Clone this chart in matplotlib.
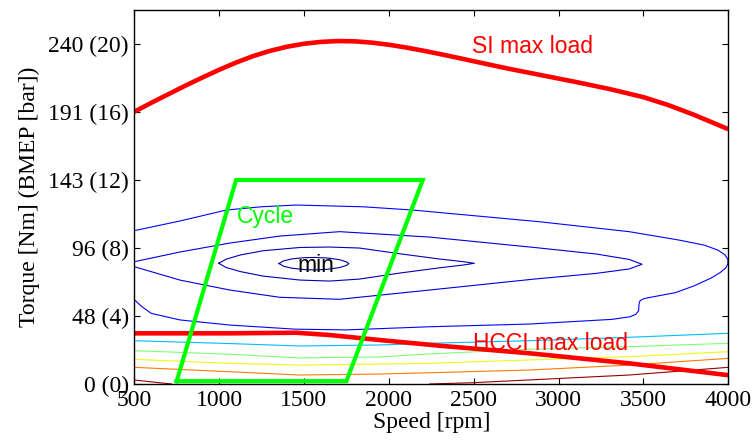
import matplotlib
matplotlib.use('Agg')
from matplotlib import pyplot as plt

# 数据：转速 [rpm] / 扭矩 [Nm]
si_speed = [500, 600, 700, 800, 900, 1000, 1100, 1200, 1300, 1400, 1500, 1600, 1700, 1800, 1900, 2000,
            2100, 2200, 2300, 2400, 2500, 2700, 2900, 3100, 3300, 3500, 3650, 3800, 3900, 4000]
si_torque = [191.2, 197.5, 203.5, 209.5, 215.2, 220.7, 225.8, 230.3, 234.0, 236.9, 239.0, 240.3, 240.9, 240.7, 239.8, 238.3,
             236.4, 234.2, 231.8, 229.3, 226.7, 221.6, 216.9, 212.2, 207.2, 201.5, 195.8, 189.0, 184.0, 179.0]

hcci_speed = [500, 1063, 1455, 1651, 1945, 2298, 2827, 3416, 4000]
hcci_torque = [35.6, 35.6, 36.0, 34.4, 30.9, 26.9, 21.6, 14.5, 6.2]

cycle_speed = [750, 1750, 2200, 1100, 750]
cycle_torque = [2, 2, 143.3, 143.3, 2]

# 等值线
c1_speed = [1353, 1380, 1430, 1500, 1560, 1640, 1710, 1750, 1765, 1750, 1710, 1640, 1560, 1500, 1430, 1380, 1353]
c1_torque = [84.6, 86.5, 87.9, 88.7, 88.9, 88.5, 87.3, 85.8, 84.6, 83.3, 81.8, 80.6, 80.1, 80.4, 81.3, 82.7, 84.6]

c2_speed = [998, 1040, 1124, 1259, 1477, 1651, 1827, 2063, 2298, 2440, 2504,
            2440, 2298, 2063, 1827, 1651, 1477, 1259, 1124, 1040, 998]
c2_torque = [84.8, 87.6, 90.6, 93.6, 95.9, 96.2, 95.5, 91.5, 87.8, 85.9, 84.8,
             83.6, 81.6, 77.9, 73.7, 72.3, 73.0, 75.8, 79.0, 81.9, 84.8]

c3_speed = [500, 769, 1063, 1357, 1710, 2240, 2857, 3222, 3416, 3492, 3416, 3222, 2857, 2240, 1710, 1357, 1063, 769, 500]
c3_torque = [85.9, 92.7, 99.0, 103.9, 107.0, 103.2, 95.9, 91.3, 87.5, 84.1, 80.8, 77.7, 73.7, 66.0, 59.5, 60.9, 66.0, 73.0, 82.4]

c4_speed = [500, 769, 1043, 1250, 1455, 1845, 2139, 2886, 3416, 3710, 3860, 3940, 3980, 3998,
            3998, 3985, 3955, 3900, 3800, 3690, 3560, 3504, 3480, 3474, 3472, 3455, 3420, 3316,
            2827, 2239, 1750, 1450, 1063, 769, 600, 540, 500]
c4_torque = [107.7, 114.5, 122.2, 124.5, 125.7, 124.5, 122.2, 114.0, 107.0, 101.1, 97.5, 94.0, 90.8, 87.5,
             84.5, 81.5, 78.5, 74.5, 69.0, 64.2, 61.3, 60.0, 58.5, 56.0, 51.5, 48.9, 47.2, 45.4,
             42.1, 40.2, 38.0, 38.5, 41.4, 45.0, 49.6, 54.8, 59.3]

low_speed = [500, 1063, 1475, 1945, 2239, 2827, 3416, 4000]
c5_torque = [30.4, 28.4, 26.7, 27.4, 28.6, 30.4, 32.8, 35.6]
c6_torque = [23.4, 20.9, 18.3, 19.0, 21.1, 24.4, 26.2, 28.6]
c7_torque = [17.3, 14.5, 13.3, 14.0, 14.5, 16.9, 19.2, 22.7]
c8_torque = [11.7, 8.6, 6.3, 7.0, 7.9, 9.8, 13.3, 18.0]

c9a_speed = [500, 600, 720]
c9a_torque = [2.8, 1.5, 0]
c9b_speed = [2240, 2494, 3023, 3416, 4000]
c9b_torque = [0, 0.9, 4.0, 6.3, 11.7]

bmep = [0, 4, 8, 12, 16, 20]
nm_labels = [0, 48, 96, 143, 191, 240]

jet = plt.cm.jet

fig = plt.figure(figsize=(7.56, 4.43), dpi=100)
ax = fig.add_axes([0.1776, 0.1332, 0.7857, 0.8442])

# 等值线
ax.plot(c1_speed, c1_torque, color=jet(0.02), lw=0.8)
ax.plot(c2_speed, c2_torque, color=jet(0.05), lw=0.8)
ax.plot(c3_speed, c3_torque, color=jet(0.08), lw=0.8)
ax.plot(c4_speed, c4_torque, color=jet(0.13), lw=0.8)
ax.plot(low_speed, c5_torque, color=jet(0.31), lw=0.8)
ax.plot(low_speed, c6_torque, color=jet(0.50), lw=0.8)
ax.plot(low_speed, c7_torque, color=jet(0.63), lw=0.8)
ax.plot(low_speed, c8_torque, color=jet(0.78), lw=0.8)
ax.plot(c9a_speed, c9a_torque, color=jet(0.98), lw=0.8)
ax.plot(c9b_speed, c9b_torque, color=jet(0.98), lw=0.8)

# 负荷极限
ax.plot(si_speed, si_torque, color='red', lw=3.3, solid_capstyle='butt')
ax.plot(hcci_speed, hcci_torque, color='red', lw=3.3, solid_capstyle='butt')

# 循环
ax.plot(cycle_speed, cycle_torque, color=(0, 1, 0), lw=3, solid_joinstyle='miter')

sans = 'Liberation Sans'
ax.text(2492, 232.3, 'SI max load', color='red', fontsize=16.5, family=sans, va='baseline')
ax.text(2498, 23.9, 'HCCI max load', color='red', fontsize=16.5, family=sans, va='baseline')
ax.text(1104, 112.9, 'Cycle', color=(0, 1, 0), fontsize=16.5, family=sans, va='baseline')
ax.text(1463, 78.9, 'min', color='black', fontsize=16.5, family=sans, va='baseline')

ax.set_xlim(500, 4000)
ax.set_ylim(0, 262.7)

serif = 'Liberation Serif'
ax.set_xticks(range(500, 4001, 500))
ax.set_xticklabels([str(v) for v in range(500, 4001, 500)], family=serif, fontsize=17)
ax.set_yticks([b * 11.94 for b in bmep])
ax.set_yticklabels(['%d (%d)' % (n, b) for n, b in zip(nm_labels, bmep)], family=serif, fontsize=17)
ax.tick_params(direction='in', length=4, width=0.8, top=True, right=True, pad=4)

ax.set_xlabel('Speed [rpm]', family=serif, fontsize=17, labelpad=1)
ax.set_ylabel('Torque [Nm] (BMEP [bar])', family=serif, fontsize=17, labelpad=6)

for s in ax.spines.values():
    s.set_linewidth(1)

plt.savefig('out.png', dpi=100)
